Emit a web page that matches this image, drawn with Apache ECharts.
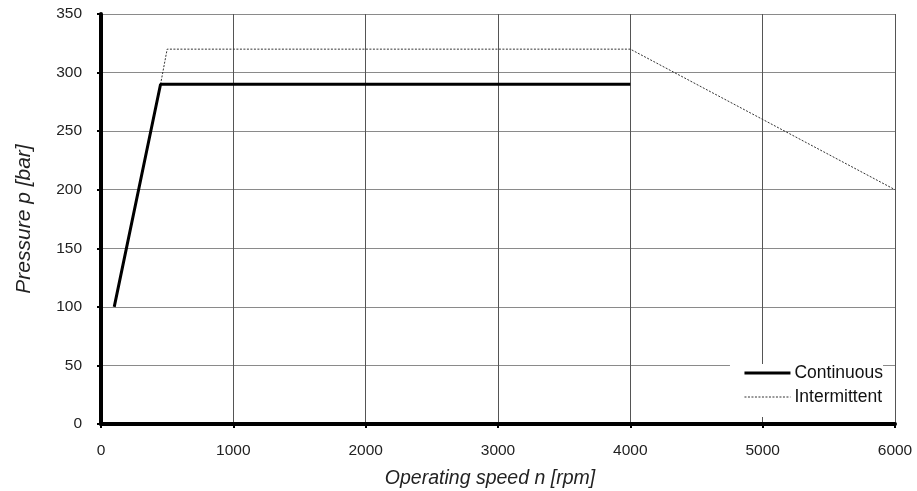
<!DOCTYPE html>
<html>
<head>
<meta charset="utf-8">
<script src="https://cdn.jsdelivr.net/npm/echarts@6/dist/echarts.min.js"></script>
<style>html,body{margin:0;padding:0;background:#fff}#c{width:917px;height:491px}</style>
</head>
<body>
<div id="c"></div>
<script>
var continuousSpeed = [100, 450, 4000];
var continuousPressure = [100, 290, 290];
var intermittentSpeed = [450, 500, 4000, 6000];
var intermittentPressure = [290, 320, 320, 200];
var seriesNames = ['Continuous', 'Intermittent'];

function pairs(xs, ys) { return xs.map(function (x, i) { return [x, ys[i]]; }); }

var chart = echarts.init(document.getElementById('c'));
var font = 'Liberation Sans, Arial, sans-serif';
chart.setOption({
  animation: false,
  backgroundColor: '#fff',
  grid: { left: 101, right: 22, top: 14, bottom: 67, show: false, containLabel: false, outerBoundsMode: 'none' },
  legend: {
    orient: 'vertical',
    right: 34, bottom: 74,
    backgroundColor: '#fff',
    padding: [0, 0, 11, 13],
    itemGap: 6,
    itemWidth: 46, itemHeight: 17,
    textStyle: { fontFamily: font, fontSize: 17.5, color: '#111', padding: [0, 0, 0, -1] },
    data: [
      { name: seriesNames[0], itemStyle: { opacity: 0 }, lineStyle: { width: 3, color: '#000' } },
      { name: seriesNames[1], itemStyle: { opacity: 0 }, lineStyle: { width: 1, color: '#333', type: [2, 1.5] } }
    ]
  },
  xAxis: {
    type: 'value', min: 0, max: 6000, interval: 1000,
    name: 'Operating speed n [rpm]', nameLocation: 'middle', nameGap: 45,
    nameTextStyle: { fontFamily: font, fontSize: 19.5, fontStyle: 'italic', color: '#222', padding: [0, 16, 0, 0] },
    axisLine: { show: true, onZero: false, lineStyle: { color: '#000', width: 4 } },
    axisTick: { show: true, inside: false, length: 4, lineStyle: { color: '#000', width: 2 } },
    axisLabel: { fontFamily: font, fontSize: 15.5, color: '#222', margin: 19, formatter: function (v) { return String(v); } },
    splitLine: { show: true, lineStyle: { color: '#555', width: 1 } }
  },
  yAxis: {
    type: 'value', min: 0, max: 350, interval: 50,
    name: 'Pressure p [bar]', nameLocation: 'middle', nameGap: 66,
    nameTextStyle: { fontFamily: font, fontSize: 21, fontStyle: 'italic', color: '#222' },
    axisLine: { show: true, onZero: false, lineStyle: { color: '#000', width: 4 } },
    axisTick: { show: true, inside: false, length: 4, lineStyle: { color: '#000', width: 2 } },
    axisLabel: { fontFamily: font, fontSize: 15.5, color: '#222', margin: 19 },
    splitLine: { show: true, lineStyle: { color: '#8a8a8a', width: 1 } }
  },
  series: [
    {
      name: seriesNames[0], type: 'line', symbol: 'none',
      data: pairs(continuousSpeed, continuousPressure),
      lineStyle: { color: '#000', width: 3 }, itemStyle: { color: '#000' }, z: 3
    },
    {
      name: seriesNames[1], type: 'line', symbol: 'none',
      data: pairs(intermittentSpeed, intermittentPressure),
      lineStyle: { color: '#333', width: 1, type: [2, 1.5] }, itemStyle: { color: '#333' }, z: 2
    }
  ]
});
</script>
</body>
</html>
